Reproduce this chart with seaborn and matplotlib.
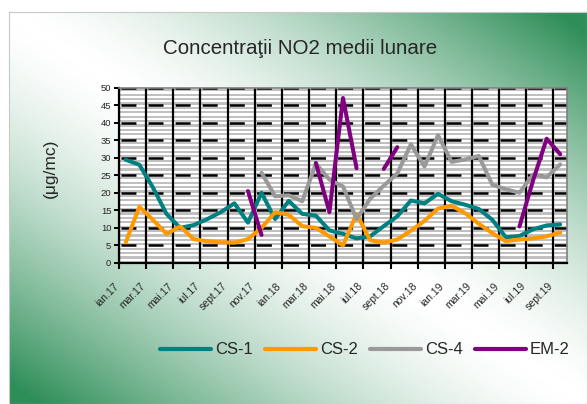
import numpy as np
import pandas as pd
import seaborn as sns
import matplotlib.pyplot as plt
from matplotlib.lines import Line2D
from matplotlib.colors import LinearSegmentedColormap
from matplotlib.transforms import ScaledTranslation

nan = np.nan

# luni ian.17 ... sept.19
luni = ["ian.17", "feb.17", "mar.17", "apr.17", "mai.17", "iun.17", "iul.17", "aug.17",
        "sept.17", "oct.17", "nov.17", "dec.17",
        "ian.18", "feb.18", "mar.18", "apr.18", "mai.18", "iun.18", "iul.18", "aug.18",
        "sept.18", "oct.18", "nov.18", "dec.18",
        "ian.19", "feb.19", "mar.19", "apr.19", "mai.19", "iun.19", "iul.19", "aug.19",
        "sept.19"]

cs1 = [29.4, 28.0, 21.5, 14.0, 10.0, 10.8, 12.5, 14.5, 17.0, 11.5, 20.0, 12.5,
       17.7, 14.0, 13.5, 9.3, 8.3, 7.0, 7.6, 10.5, 13.3, 17.8, 17.0, 19.7,
       17.6, 16.6, 15.4, 12.3, 7.3, 7.7, 9.6, 10.7, 11.0]
cs2 = [5.9, 16.0, 12.3, 8.3, 10.4, 6.8, 6.2, 5.9, 5.8, 6.8, 10.0, 14.5,
       13.7, 10.5, 10.0, 7.6, 5.0, 14.0, 6.5, 5.8, 6.7, 9.2, 12.0, 15.5,
       16.3, 14.2, 11.2, 8.5, 6.2, 6.7, 7.0, 7.6, 8.7]
cs4 = [nan, nan, nan, nan, nan, nan, nan, nan, nan, nan, 25.7, 19.0,
       19.3, 17.6, 28.3, 23.8, 21.8, 12.5, 18.3, 22.0, 25.5, 33.8, 27.5, 36.4,
       28.8, 29.5, 30.5, 22.3, 21.0, 20.0, 25.2, 24.4, 28.1]
em2 = [nan, nan, nan, nan, nan, nan, nan, nan, nan, 20.5, 8.0, nan,
       nan, nan, 28.5, 14.5, 47.0, 27.0, nan, 26.8, 33.0, nan, nan, nan,
       nan, nan, nan, nan, nan, 10.4, 23.5, 35.4, 31.0]

serii = {"CS-1": cs1, "CS-2": cs2, "CS-4": cs4, "EM-2": em2}
culori = {"CS-1": "#008080", "CS-2": "#FF9900", "CS-4": "#999999", "EM-2": "#800080"}

# tabel lung, cu segmente separate acolo unde lipsesc date
rows = []
for nume, valori in serii.items():
    seg = 0
    prev = False
    for i, v in enumerate(valori):
        if np.isnan(v):
            prev = False
            continue
        if not prev:
            seg += 1
        prev = True
        rows.append({"idx": i, "val": v, "serie": nume, "seg": f"{nume}_{seg}"})
df = pd.DataFrame(rows)

sns.set_style("white")
plt.rcParams["font.family"] = ["Liberation Sans", "DejaVu Sans"]
plt.rcParams["lines.scale_dashes"] = False

W, H = 587, 404
fig = plt.figure(figsize=(W / 100, H / 100), dpi=100)

# fundal cu gradient diagonal
bg = fig.add_axes([9 / W, 0, (W - 9) / W, (H - 12) / H])
u, v = np.meshgrid(np.linspace(0, 1, 300), np.linspace(0, 1, 200))
f = np.clip(np.abs(u + v - 1) * 1.05, 0, 1) ** 1.5
cmap_bg = LinearSegmentedColormap.from_list("bg", ["#ffffff", "#2e8e58"])
bg.imshow(f, cmap=cmap_bg, extent=[0, 1, 0, 1], aspect="auto", origin="lower",
          vmin=0, vmax=1)
bg.set_xticks([])
bg.set_yticks([])
for s in bg.spines.values():
    s.set_color("#c8c8c8")
    s.set_linewidth(0.8)

ax = fig.add_axes([119 / W, 1 - 263 / H, (567 - 119) / W, (263 - 87.5) / H])
ax.set_zorder(2)

# dungi orizontale in zona graficului
stripes = np.tile([[0], [1]], (40, 1))
cmap_st = LinearSegmentedColormap.from_list("st", ["#ffffff", "#c0c0c0"])
ax.imshow(stripes, cmap=cmap_st, extent=[0, 1, 0, 1], transform=ax.transAxes,
          aspect="auto", interpolation="nearest", zorder=0)

sns.lineplot(data=df, x="idx", y="val", hue="serie", units="seg", estimator=None,
             palette=culori, linewidth=2.9, legend=False, sort=False, ax=ax)

ax.set_xlim(-0.5, len(luni) - 0.5)
ax.set_ylim(0, 50)
ax.set_xlabel("")
ax.set_ylabel("")

ax.set_yticks(np.arange(0, 51, 5))
ax.tick_params(axis="y", labelsize=6.8, length=3.5, width=1.4, direction="out",
               left=True, pad=2, color="black")
ax.set_xticks(np.arange(0, len(luni), 2))
ax.set_xticklabels(luni[::2], rotation=45, ha="right", rotation_mode="anchor")
ax.tick_params(axis="x", which="major", labelsize=7.5, length=0, pad=9)
offset = ScaledTranslation(-9 / 72, -4 / 72, fig.dpi_scale_trans)
for lab in ax.get_xticklabels():
    lab.set_transform(lab.get_transform() + offset)
ax.set_xticks(np.arange(-0.5, len(luni) - 1, 2), minor=True)
ax.tick_params(axis="x", which="minor", length=4, width=1.5, direction="out",
               bottom=True, color="black")

ax.set_axisbelow(True)
ax.grid(axis="y", which="major", color="black", linewidth=1.8,
        linestyle=(18.1, (10.8, 8.7)))
ax.grid(axis="x", which="minor", color="black", linewidth=1.6)
ax.grid(axis="x", which="major", visible=False)

for side in ["left", "bottom"]:
    ax.spines[side].set_color("black")
    ax.spines[side].set_linewidth(1.6)
for side in ["top", "right"]:
    ax.spines[side].set_color("#808080")
    ax.spines[side].set_linewidth(1.2)

fig.text(300 / W, 1 - 49 / H, "Concentraţii NO2 medii lunare", ha="center",
         va="center", fontsize=14.8)
fig.text(50 / W, 1 - 168 / H, "(μg/mc)", rotation=90, ha="center", va="center",
         fontsize=12.5)

handles = [Line2D([0], [0], color=culori[n], lw=3.0) for n in serii]
fig.legend(handles, list(serii), loc="center", bbox_to_anchor=(365 / W, 1 - 350 / H),
           ncol=4, frameon=False, fontsize=12, handlelength=3.05,
           handletextpad=0.25, columnspacing=0.72)

fig.savefig("out.png", dpi=100)
